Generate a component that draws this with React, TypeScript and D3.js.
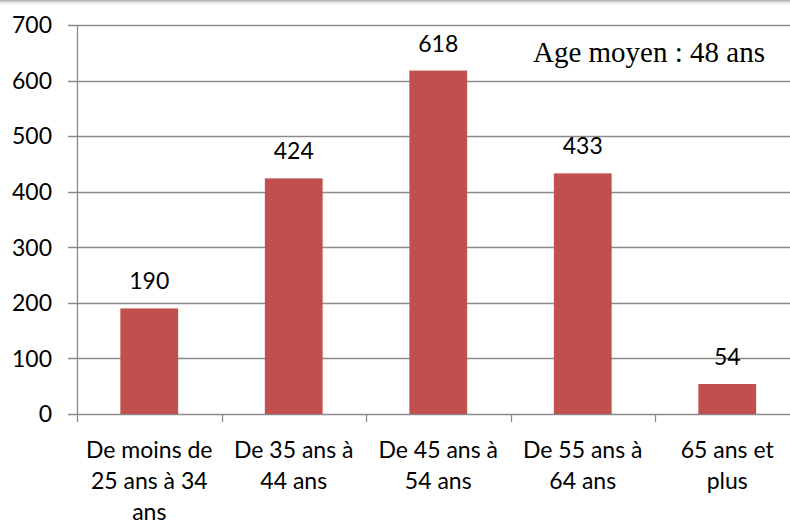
import React from "react";
import * as d3 from "d3";

const categories: string[][] = [
  ["De moins de", "25 ans à 34", "ans"],
  ["De 35 ans à", "44 ans"],
  ["De 45 ans à", "54 ans"],
  ["De 55 ans à", "64 ans"],
  ["65 ans et", "plus"],
];
const categoryKeys = ["c1", "c2", "c3", "c4", "c5"];
const values = [190, 424, 618, 433, 54];
const yTicks = [0, 100, 200, 300, 400, 500, 600, 700];
const annotation = "Age moyen : 48 ans";

const W = 790;
const H = 522;
const left = 77;
const right = 799.5;
const top = 25;
const bottom = 414;
const FONT = "Lato, 'Open Sans', sans-serif";
const GRID = "#8a8a8a";
const BAR = "#C0504D";

export default function App() {
  const x = d3
    .scaleBand<string>()
    .domain(categoryKeys)
    .range([left, right])
    .paddingInner(0.6)
    .paddingOuter(0.3);
  const y = d3.scaleLinear().domain([0, 700]).range([bottom, top]);
  const step = x.step();
  const boundaries = d3.range(categoryKeys.length + 1).map((i) => left + i * step);

  return (
    <svg
      width={W}
      height={H}
      style={{ position: "absolute", left: 0, top: 0, background: "#fff" }}
    >
      <defs>
        <linearGradient id="shadow" x1="0" y1="0" x2="0" y2="1">
          <stop offset="0" stopColor="#a8a8a8" />
          <stop offset="1" stopColor="#ffffff" stopOpacity="0" />
        </linearGradient>
      </defs>
      <rect x={0} y={0} width={W} height={H} fill="#fff" />
      <rect x={0} y={0} width={W} height={6} fill="url(#shadow)" />

      {yTicks.map((t) => (
        <g key={t}>
          <line
            x1={68}
            x2={W}
            y1={Math.round(y(t)) + 0.5}
            y2={Math.round(y(t)) + 0.5}
            stroke={GRID}
            strokeWidth={1.3}
          />
          <text
            x={52}
            y={y(t) + 8.3}
            textAnchor="end"
            fontFamily={FONT}
            fontSize={23}
            fill="#000"
          >
            {t}
          </text>
        </g>
      ))}

      <line x1={left + 0.5} x2={left + 0.5} y1={top} y2={bottom} stroke={GRID} strokeWidth={1.3} />
      {boundaries.map((bx, i) => (
        <line
          key={i}
          x1={Math.round(bx) + 0.5}
          x2={Math.round(bx) + 0.5}
          y1={bottom}
          y2={bottom + 8}
          stroke={GRID}
          strokeWidth={1.3}
        />
      ))}

      {values.map((v, i) => {
        const k = categoryKeys[i];
        const bx = x(k)!;
        return (
          <g key={k}>
            <rect
              x={bx}
              y={y(v)}
              width={x.bandwidth()}
              height={bottom - y(v)}
              fill={BAR}
            />
            <text
              x={bx + x.bandwidth() / 2}
              y={y(v) - 19}
              textAnchor="middle"
              fontFamily={FONT}
              fontSize={23}
              fill="#000"
            >
              {v}
            </text>
          </g>
        );
      })}

      {categories.map((lines, i) => {
        const cx = x(categoryKeys[i])! + x.bandwidth() / 2;
        return (
          <text
            key={i}
            textAnchor="middle"
            fontFamily={FONT}
            fontSize={23}
            fill="#000"
          >
            {lines.map((l, j) => (
              <tspan key={j} x={cx} y={458 + j * 31}>
                {l}
              </tspan>
            ))}
          </text>
        );
      })}

      <text
        x={533}
        y={62}
        fontFamily="'Liberation Serif', 'Times New Roman', serif"
        fontSize={29}
        fill="#000"
      >
        {annotation}
      </text>
    </svg>
  );
}
